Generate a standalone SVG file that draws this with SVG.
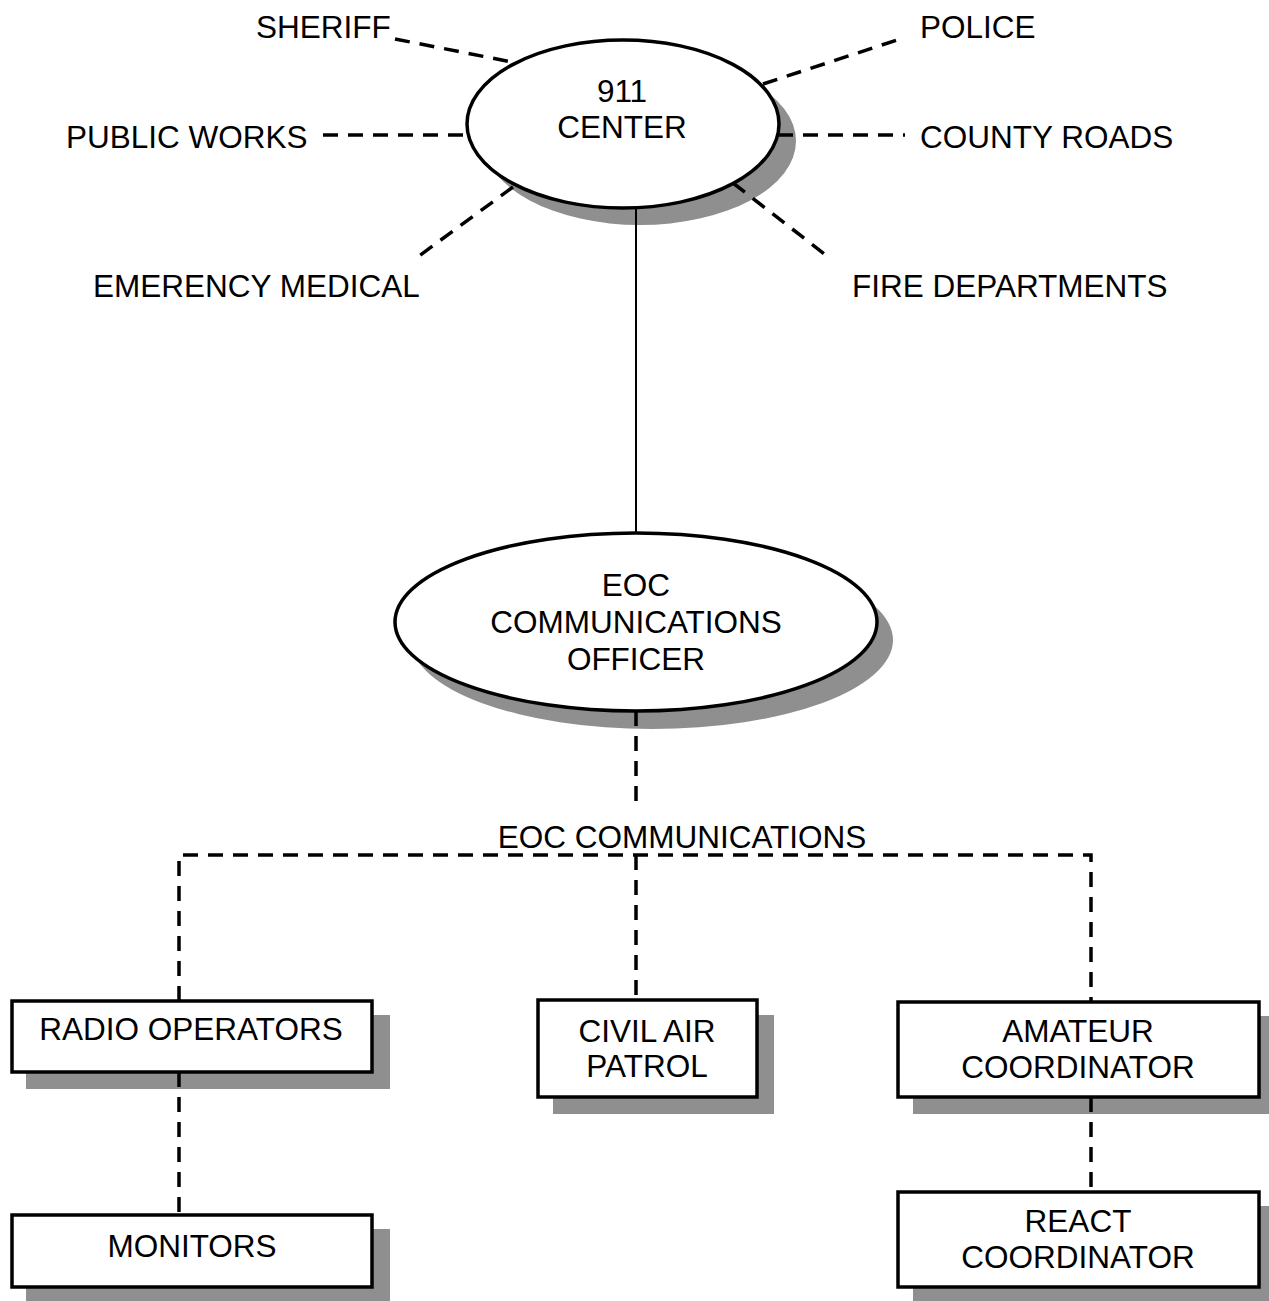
<svg xmlns="http://www.w3.org/2000/svg" width="1269" height="1301" viewBox="0 0 1269 1301">
<style>
  .t { font-family: "Liberation Sans", Arial, sans-serif; font-size: 31.5px; fill: #000; }
  .c { text-anchor: middle; }
  .sh { fill: #8f8f8f; stroke: none; }
  .nd { fill: #fff; stroke: #000; stroke-width: 3.5; }
  .dash { fill: none; stroke: #000; stroke-width: 3.5; stroke-dasharray: 15 10; }
  .solid { fill: none; stroke: #000; stroke-width: 2; }
</style>
<rect width="1269" height="1301" fill="#fff"/>

<g id="center911">
  <ellipse class="sh" cx="640" cy="141" rx="156" ry="84"/>
  <ellipse class="nd" cx="623" cy="124" rx="156" ry="84"/>
  <text class="t c" x="622" y="102">911</text>
  <text class="t c" x="622" y="138">CENTER</text>
</g>

<g id="sheriff"><text class="t" x="256" y="38">SHERIFF</text></g>
<g id="police"><text class="t" x="920" y="38">POLICE</text></g>
<g id="publicworks"><text class="t" x="66" y="148">PUBLIC WORKS</text></g>
<g id="countyroads"><text class="t" x="920" y="148">COUNTY ROADS</text></g>
<g id="emergencymedical"><text class="t" x="93" y="297">EMERENCY MEDICAL</text></g>
<g id="firedepartments"><text class="t" x="852" y="297">FIRE DEPARTMENTS</text></g>

<g id="eocofficer">
  <ellipse class="sh" cx="652" cy="640" rx="241" ry="89"/>
  <ellipse class="nd" cx="636" cy="622" rx="241" ry="89"/>
  <text class="t c" x="636" y="596">EOC</text>
  <text class="t c" x="636" y="633">COMMUNICATIONS</text>
  <text class="t c" x="636" y="670">OFFICER</text>
</g>

<g id="eoccomms"><text class="t c" x="682" y="848">EOC COMMUNICATIONS</text></g>

<g id="radiooperators">
  <rect class="sh" x="26" y="1015" width="364" height="74"/>
  <rect class="nd" x="12" y="1001" width="360" height="71"/>
  <text class="t c" x="191" y="1040">RADIO OPERATORS</text>
</g>

<g id="monitors">
  <rect class="sh" x="26" y="1229" width="364" height="74"/>
  <rect class="nd" x="12" y="1215" width="360" height="72"/>
  <text class="t c" x="192" y="1257">MONITORS</text>
</g>

<g id="civilairpatrol">
  <rect class="sh" x="553" y="1015" width="221" height="99"/>
  <rect class="nd" x="538" y="1000" width="219" height="97"/>
  <text class="t c" x="647" y="1042">CIVIL AIR</text>
  <text class="t c" x="647" y="1077">PATROL</text>
</g>

<g id="amateur">
  <rect class="sh" x="913" y="1016" width="360" height="98"/>
  <rect class="nd" x="898" y="1002" width="361" height="95"/>
  <text class="t c" x="1078" y="1042">AMATEUR</text>
  <text class="t c" x="1078" y="1078">COORDINATOR</text>
</g>

<g id="react">
  <rect class="sh" x="913" y="1206" width="360" height="98"/>
  <rect class="nd" x="898" y="1192" width="361" height="95"/>
  <text class="t c" x="1078" y="1232">REACT</text>
  <text class="t c" x="1078" y="1268">COORDINATOR</text>
</g>

<g id="connectors">
  <line class="solid" x1="636" y1="209" x2="636" y2="532"/>
  <line class="dash" x1="395" y1="39" x2="517" y2="63"/>
  <line class="dash" x1="763" y1="84" x2="897" y2="40"/>
  <line class="dash" x1="323" y1="135" x2="468" y2="135"/>
  <line class="dash" x1="778" y1="135" x2="905" y2="135"/>
  <line class="dash" x1="513" y1="187" x2="419" y2="256"/>
  <line class="dash" x1="733" y1="183" x2="827" y2="256"/>
  <line class="dash" x1="636" y1="711" x2="636" y2="810"/>
  <polyline class="dash" points="179,1001 179,855 1091,855 1091,1002"/>
  <line class="dash" x1="636" y1="855" x2="636" y2="1000"/>
  <line class="dash" x1="179" y1="1072" x2="179" y2="1215"/>
  <line class="dash" x1="1091" y1="1097" x2="1091" y2="1192"/>
</g>
</svg>
